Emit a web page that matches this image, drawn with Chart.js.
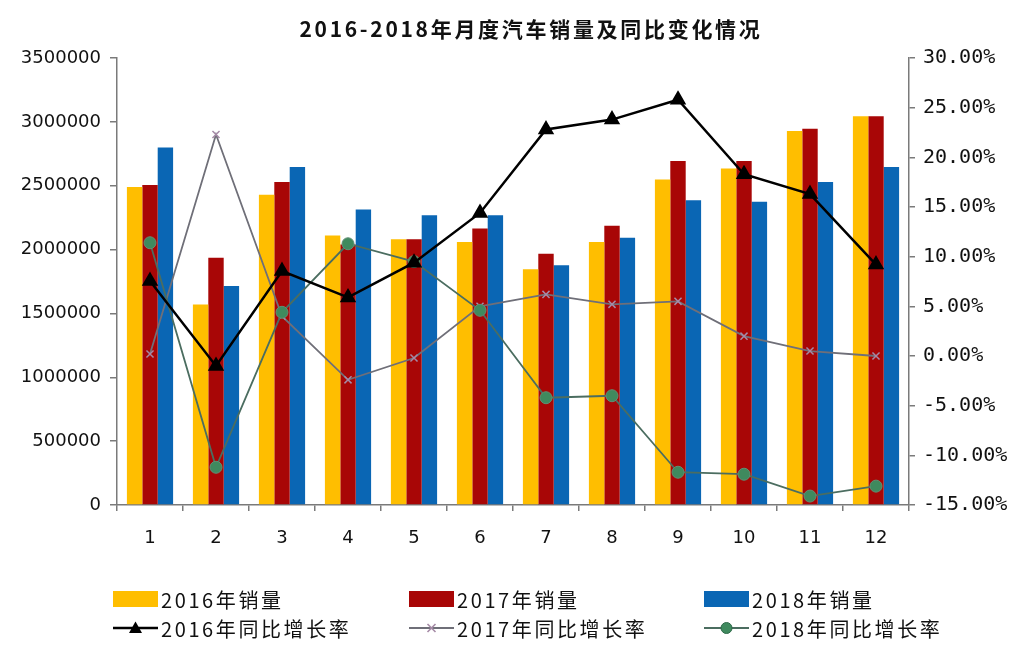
<!DOCTYPE html>
<html>
<head>
<meta charset="utf-8">
<script src="https://cdn.jsdelivr.net/npm/chart.js@4/dist/chart.umd.min.js"></script>
<style>
  html, body { margin: 0; padding: 0; background: #fff; }
  #wrap { position: relative; width: 1024px; height: 649px; overflow: hidden; background: #fff; }
  #c { position: absolute; left: 0; top: 0; }
  #title { position: absolute; top: 14px; left: 531px; transform: translateX(-50%); white-space: nowrap;
           font: bold 21px "Noto Sans CJK SC", sans-serif; letter-spacing: 2.7px; color: #111; line-height: 28px; }
  .lg { position: absolute; height: 26px; display: flex; align-items: center; white-space: nowrap;
        font: 20px "Noto Sans CJK SC", sans-serif; letter-spacing: 2.6px; color: #111; }
  .sw { width: 45px; height: 16px; margin-right: 3px; }
  .lg svg { margin-right: 3px; }
</style>
</head>
<body>
<div id="wrap">
  <canvas id="c" width="1024" height="649"></canvas>
  <div id="title"></div>
  <div id="legend"></div>
</div>
<script>
// ---- data ----
const titleText = "2016-2018年月度汽车销量及同比变化情况";
const months = ["1","2","3","4","5","6","7","8","9","10","11","12"];
const sales2016 = [2490000, 1570000, 2430000, 2110000, 2080000, 2060000, 1845000, 2060000, 2548000, 2634000, 2929000, 3044000];
const sales2017 = [2505000, 1935000, 2530000, 2040000, 2080000, 2165000, 1968000, 2186000, 2694000, 2694000, 2947000, 3044000];
const sales2018 = [2800000, 1714000, 2647000, 2314000, 2269000, 2269000, 1878000, 2092000, 2387000, 2374000, 2530000, 2647000];
const yoy2016 = [7.55, -1.0, 8.55, 5.9, 9.4, 14.4, 22.8, 23.8, 25.8, 18.3, 16.3, 9.2];
const yoy2017 = [0.2, 22.3, 4.0, -2.4, -0.2, 5.0, 6.2, 5.2, 5.5, 2.0, 0.5, 0.0];
const yoy2018 = [11.4, -11.2, 4.4, 11.3, 9.5, 4.6, -4.2, -4.0, -11.7, -11.9, -14.1, -13.1];
const seriesNames = ["2016年销量", "2017年销量", "2018年销量", "2016年同比增长率", "2017年同比增长率", "2018年同比增长率"];

const cYellow = "#FFBE00", cRed = "#A80606", cBlue = "#0A66B4";
const cBlack = "#000000", cGrey = "#6f6f78", cGreyPt = "#a58aa6", cGreen = "#4b6d60", cGreenPt = "#3f8a5e";

document.getElementById("title").textContent = titleText;

// ---- legend (HTML) ----
const legend = document.getElementById("legend");
const cols = [113, 409, 704];
const barColors = [cYellow, cRed, cBlue];
const markerSvg = [
  '<svg width="45" height="16"><line x1="0" y1="8" x2="45" y2="8" stroke="#000" stroke-width="2.5"/><polygon points="22.5,1.5 29,13 16,13" fill="#000"/></svg>',
  '<svg width="45" height="16"><line x1="0" y1="8" x2="45" y2="8" stroke="' + cGrey + '" stroke-width="2"/><path d="M18.5 4 L26.5 12 M26.5 4 L18.5 12" stroke="' + cGreyPt + '" stroke-width="1.6"/></svg>',
  '<svg width="45" height="16"><line x1="0" y1="8" x2="45" y2="8" stroke="' + cGreen + '" stroke-width="2"/><circle cx="22.5" cy="8" r="5.5" fill="' + cGreenPt + '" stroke="#2f6a4a" stroke-width="1"/></svg>'
];
for (let i = 0; i < 3; i++) {
  const a = document.createElement("div");
  a.className = "lg"; a.style.left = cols[i] + "px"; a.style.top = "586px";
  a.innerHTML = '<div class="sw" style="background:' + barColors[i] + '"></div><span></span>';
  a.querySelector("span").textContent = seriesNames[i];
  legend.appendChild(a);
  const b = document.createElement("div");
  b.className = "lg"; b.style.left = cols[i] + "px"; b.style.top = "615px";
  b.innerHTML = markerSvg[i] + '<span></span>';
  b.querySelector("span").textContent = seriesNames[3 + i];
  legend.appendChild(b);
}

// ---- chart ----
const axisGrey = "#7a7a7a";
new Chart(document.getElementById("c"), {
  data: {
    labels: months,
    datasets: [
      { type: "line", label: seriesNames[3], data: yoy2016, yAxisID: "y1", order: 0,
        borderColor: cBlack, backgroundColor: cBlack, borderWidth: 2.5,
        pointStyle: "triangle", pointRadius: 7, pointBackgroundColor: cBlack, pointBorderColor: cBlack },
      { type: "line", label: seriesNames[5], data: yoy2018, yAxisID: "y1", order: 1,
        borderColor: cGreen, backgroundColor: cGreenPt, borderWidth: 1.8,
        pointStyle: "circle", pointRadius: 6, pointBackgroundColor: cGreenPt, pointBorderColor: "#5f8f74", pointBorderWidth: 1 },
      { type: "line", label: seriesNames[4], data: yoy2017, yAxisID: "y1", order: 2,
        borderColor: cGrey, backgroundColor: cGreyPt, borderWidth: 1.8,
        pointStyle: "crossRot", pointRadius: 5, pointBorderColor: cGreyPt, pointBorderWidth: 1.5 },
      { type: "bar", label: seriesNames[0], data: sales2016, yAxisID: "y", order: 10, backgroundColor: cYellow,
        barPercentage: 1.0, categoryPercentage: 0.7 },
      { type: "bar", label: seriesNames[1], data: sales2017, yAxisID: "y", order: 10, backgroundColor: cRed,
        barPercentage: 1.0, categoryPercentage: 0.7 },
      { type: "bar", label: seriesNames[2], data: sales2018, yAxisID: "y", order: 10, backgroundColor: cBlue,
        barPercentage: 1.0, categoryPercentage: 0.7 }
    ]
  },
  options: {
    responsive: false,
    animation: false,
    events: [],
    layout: { padding: { top: 58, left: 0, right: 0, bottom: 0 } },
    plugins: { legend: { display: false }, title: { display: false }, tooltip: { enabled: false } },
    scales: {
      x: {
        offset: true,
        grid: { offset: true, drawOnChartArea: false, drawTicks: true, tickLength: 6, color: axisGrey, lineWidth: 1.5 },
        border: { color: axisGrey, width: 1.5 },
        ticks: { color: "#111", font: { family: "DejaVu Sans", size: 18 }, padding: 17, maxRotation: 0 },
        afterFit: s => { s.height = 144; }
      },
      y: {
        position: "left", min: 0, max: 3500000,
        grid: { drawOnChartArea: false, drawTicks: true, tickLength: 7, color: axisGrey, lineWidth: 1.5 },
        border: { color: axisGrey, width: 1.5 },
        ticks: { stepSize: 500000, color: "#111", font: { family: "DejaVu Sans", size: 18 }, padding: 9,
                 callback: v => String(v) },
        afterFit: s => { s.width = 117; }
      },
      y1: {
        position: "right", min: -15, max: 30,
        grid: { drawOnChartArea: false, drawTicks: true, tickLength: 6, color: axisGrey, lineWidth: 1.5 },
        border: { color: axisGrey, width: 1.5 },
        ticks: { stepSize: 5, color: "#111", font: { family: "DejaVu Sans Mono", size: 20 }, padding: 8,
                 callback: v => v.toFixed(2) + "%" },
        afterFit: s => { s.width = 115; }
      }
    }
  }
});
</script>
</body>
</html>
